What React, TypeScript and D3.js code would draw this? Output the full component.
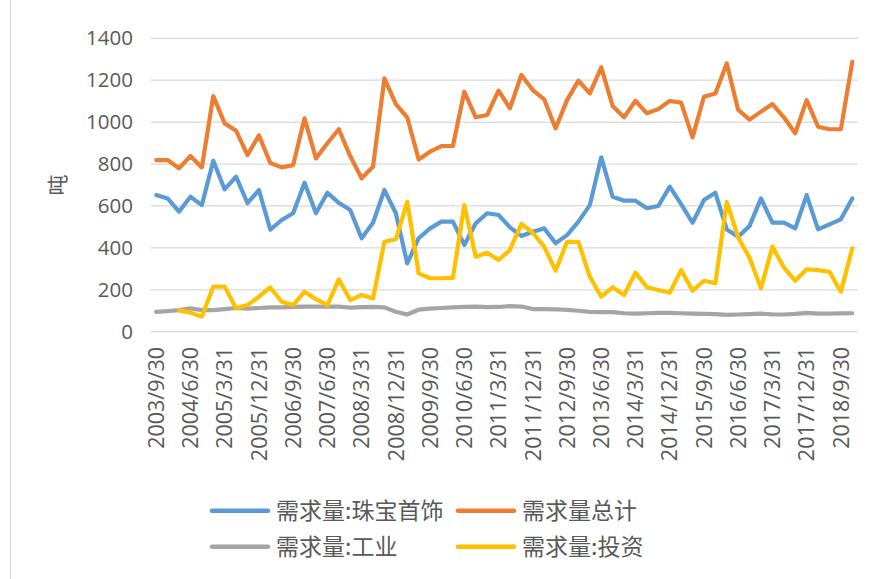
import React from "react";
import * as d3 from "d3";

const categories: string[] = [
  "2003/9/30","2003/12/31",
  "2004/3/31","2004/6/30","2004/9/30","2004/12/31",
  "2005/3/31","2005/6/30","2005/9/30","2005/12/31",
  "2006/3/31","2006/6/30","2006/9/30","2006/12/31",
  "2007/3/31","2007/6/30","2007/9/30","2007/12/31",
  "2008/3/31","2008/6/30","2008/9/30","2008/12/31",
  "2009/3/31","2009/6/30","2009/9/30","2009/12/31",
  "2010/3/31","2010/6/30","2010/9/30","2010/12/31",
  "2011/3/31","2011/6/30","2011/9/30","2011/12/31",
  "2012/3/31","2012/6/30","2012/9/30","2012/12/31",
  "2013/3/31","2013/6/30","2013/9/30","2013/12/31",
  "2014/3/31","2014/6/30","2014/9/30","2014/12/31",
  "2015/3/31","2015/6/30","2015/9/30","2015/12/31",
  "2016/3/31","2016/6/30","2016/9/30","2016/12/31",
  "2017/3/31","2017/6/30","2017/9/30","2017/12/31",
  "2018/3/31","2018/6/30","2018/9/30","2018/12/31",
];

const jewelry: number[] = [
  652, 636, 573, 644, 604, 816, 679, 740, 613, 676,
  487, 533, 565, 711, 565, 663, 615, 581, 446, 520,
  676, 565, 326, 446, 493, 525, 525, 414, 517, 565,
  557, 498, 457, 477, 493, 422, 461, 525, 604, 832,
  644, 625, 625, 589, 600, 692, 609, 520, 628, 663,
  488, 453, 505, 636, 520, 520, 493, 652, 488, 512,
  536, 636,
];

const total: number[] = [
  819, 819, 780, 838, 784, 1124, 994, 959, 843, 937,
  805, 784, 795, 1018, 827, 899, 966, 838, 732, 787,
  1209, 1086, 1023, 822, 859, 886, 886, 1145, 1023, 1034,
  1150, 1066, 1225, 1153, 1109, 970, 1105, 1198, 1137, 1261,
  1077, 1023, 1102, 1042, 1062, 1101, 1093, 927, 1121, 1137,
  1280, 1058, 1012, 1050, 1086, 1023, 947, 1105, 978, 966,
  966, 1288,
];

const industrial: number[] = [
  95, 98, 103, 111, 103, 103, 108, 113, 110, 113,
  116, 116, 118, 120, 120, 120, 120, 115, 117, 118,
  116, 95, 82, 105, 110, 113, 116, 118, 120, 117,
  118, 122, 120, 108, 108, 107, 104, 100, 95, 93,
  93, 88, 86, 88, 90, 90, 88, 86, 85, 84,
  80, 82, 84, 86, 83, 82, 85, 90, 86, 86,
  87, 88,
];

const investment: (number | null)[] = [
  null, null, 102, 91, 72, 215, 215, 112, 127, 167,
  211, 143, 127, 191, 155, 127, 250, 151, 175, 159,
  429, 441, 620, 278, 255, 255, 257, 604, 358, 377,
  342, 390, 514, 472, 406, 291, 429, 429, 262, 167,
  212, 175, 282, 212, 199, 186, 294, 196, 243, 231,
  620, 450, 352, 207, 406, 307, 243, 298, 294, 286,
  191, 398,
];

const yTicks: number[] = [0, 200, 400, 600, 800, 1000, 1200, 1400];

const seriesNames = ["需求量:珠宝首饰", "需求量总计", "需求量:工业", "需求量:投资"];
const seriesColors = ["#5B9BD5", "#ED7D31", "#A5A5A5", "#FFC000"];

export default function App() {
  const W = 881;
  const H = 579;
  const left = 150.5;
  const right = 858;
  const top = 38.3;
  const bottom = 331.7;

  const x = d3
    .scaleBand<number>()
    .domain(d3.range(categories.length))
    .range([left, right])
    .padding(0);
  const cx = (i: number) => (x(i) as number) + x.bandwidth() / 2;
  const y = d3.scaleLinear().domain([0, 1400]).range([bottom, top]);

  const line = d3
    .line<number | null>()
    .defined((d) => d !== null)
    .x((_, i) => cx(i))
    .y((d) => y(d as number));

  const series: (number | null)[][] = [jewelry, total, industrial, investment];
  const textColor = "#595959";
  const font = "'Open Sans', 'Noto Sans', sans-serif";
  const cjk = "'Noto Sans CJK SC', sans-serif";

  const legendRows = [
    { y: 510.7, items: [0, 1] },
    { y: 546.7, items: [2, 3] },
  ];
  const legendX = [212, 458];

  return (
    <svg width={W} height={H} style={{ position: "absolute", left: 0, top: 0, background: "#fff" }}>
      <rect x={0} y={0} width={W} height={H} fill="#fff" />
      <line x1={10.5} x2={10.5} y1={0} y2={H} stroke="#d9d9d9" strokeWidth={1} />
      {yTicks.map((t) => (
        <g key={t}>
          <line x1={left} x2={right} y1={y(t)} y2={y(t)} stroke="#d9d9d9" strokeWidth={1.3} />
          <text
            x={133}
            y={y(t)}
            dy="0.35em"
            textAnchor="end"
            fontFamily={font}
            fontSize={20.5}
            fill={textColor}
          >
            {t}
          </text>
        </g>
      ))}
      {categories.map((c, i) =>
        i % 3 === 0 ? (
          <text
            key={c}
            transform={`translate(${cx(i)},347) rotate(-90)`}
            dy="0.36em"
            textAnchor="end"
            fontFamily={font}
            fontSize={21.5}
            fill={textColor}
          >
            {c}
          </text>
        ) : null
      )}
      <text
        transform="translate(58,185) rotate(-90)"
        dy="0.35em"
        textAnchor="middle"
        fontFamily={cjk}
        fontSize={21}
        fill={textColor}
      >
        吨
      </text>
      {series.map((s, k) => (
        <path
          key={k}
          d={line(s) || ""}
          fill="none"
          stroke={seriesColors[k]}
          strokeWidth={4.2}
          strokeLinejoin="round"
          strokeLinecap="round"
        />
      ))}
      {legendRows.map((row) =>
        row.items.map((k, j) => (
          <g key={k}>
            <line
              x1={legendX[j]}
              x2={legendX[j] + 56}
              y1={row.y}
              y2={row.y}
              stroke={seriesColors[k]}
              strokeWidth={4.5}
              strokeLinecap="round"
            />
            <text
              x={legendX[j] + 64}
              y={row.y}
              dy="0.36em"
              fontFamily={cjk}
              fontSize={23}
              fill={textColor}
            >
              {seriesNames[k]}
            </text>
          </g>
        ))
      )}
    </svg>
  );
}
